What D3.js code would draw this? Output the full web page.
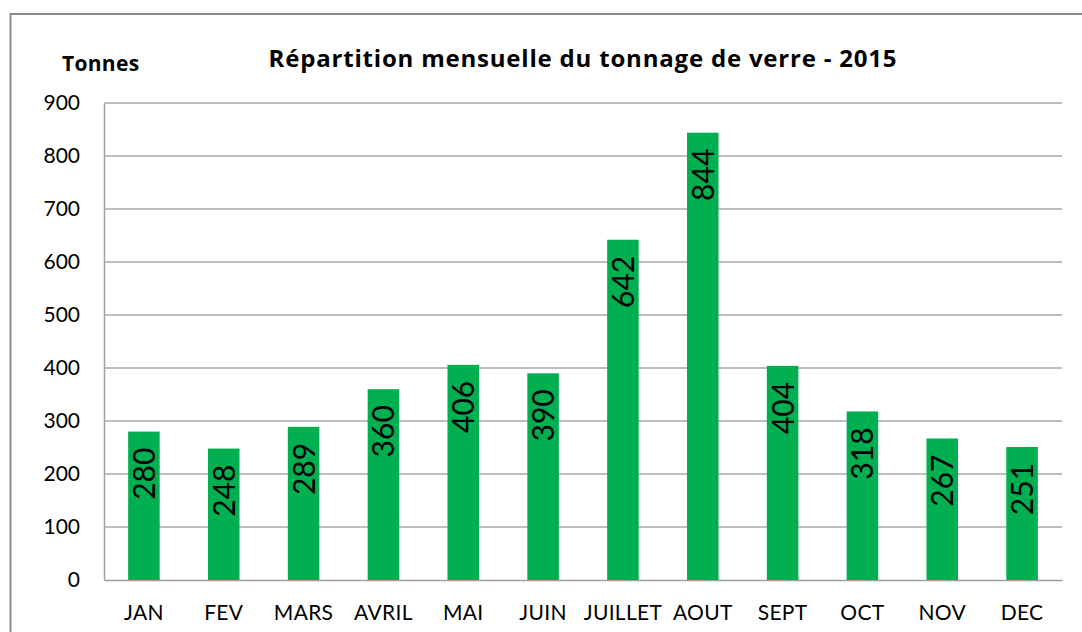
<!DOCTYPE html>
<html>
<head>
<meta charset="utf-8">
<script src="https://cdn.jsdelivr.net/npm/d3@7"></script>
<style>
  body { margin: 0; background: #fff; }
  svg { display: block; font-family: Lato, "Open Sans", sans-serif; }
</style>
</head>
<body>
<div id="chart"></div>
<script>
const months = ["JAN","FEV","MARS","AVRIL","MAI","JUIN","JUILLET","AOUT","SEPT","OCT","NOV","DEC"];
const tonnes = [280, 248, 289, 360, 406, 390, 642, 844, 404, 318, 267, 251];
const yTicks = [0, 100, 200, 300, 400, 500, 600, 700, 800, 900];
const title = "Répartition mensuelle du tonnage de verre - 2015";
const yLabel = "Tonnes";

const width = 1082, height = 632,
  margin = ({top: 103, right: 20, bottom: 52, left: 104});

const svg = d3.select("#chart") // the svg that holds everything
  .append("svg")
  .attr("width", width)
  .attr("height", height);

// outer frame, runs off the right and bottom edges like in the picture
svg.append("rect")
  .attr("x", 10.5).attr("y", 14)
  .attr("width", 1100).attr("height", 700)
  .attr("fill", "none")
  .attr("stroke", "#8c8c8c")
  .attr("stroke-width", 2);

const x = d3.scaleBand()
  .domain(months)
  .range([margin.left, width - margin.right])
  .padding(0);

const y = d3.scaleLinear()
  .domain([0, 900])
  .range([height - margin.bottom, margin.top]);

// gridlines
svg.append("g")
  .selectAll("line")
  .data(yTicks.slice(1))
  .join("line")
  .attr("x1", margin.left).attr("x2", width - margin.right)
  .attr("y1", d => y(d)).attr("y2", d => y(d))
  .attr("stroke", "#a8a8a8")
  .attr("stroke-width", 1.5);

// y axis
const yAxis = g => g
  .attr("transform", `translate(${margin.left},0)`)
  .call(d3.axisLeft(y).tickValues(yTicks).tickSize(0).tickPadding(24))
  .call(g => g.select(".domain").attr("stroke", "#a0a0a0").attr("stroke-width", 1.5))
  .call(g => g.selectAll("text")
    .attr("font-family", "Lato, sans-serif")
    .attr("font-size", 21)
    .attr("fill", "#000"));

// x axis
const xAxis = g => g
  .attr("transform", `translate(0,${y(0)})`)
  .call(d3.axisBottom(x).tickSize(0).tickPadding(25))
  .call(g => g.select(".domain").attr("stroke", "#a0a0a0").attr("stroke-width", 1.5))
  .call(g => g.selectAll("text")
    .attr("font-family", "Lato, sans-serif")
    .attr("font-size", 21)
    .attr("letter-spacing", 0.3)
    .attr("fill", "#000"));

svg.append("g").call(yAxis);
svg.append("g").call(xAxis);

const barW = x.bandwidth() * 0.395;

let bar = svg.selectAll(".bar")
  .data(months.map((m, i) => ({month: m, value: tonnes[i]})))
  .join("g")
  .attr("class", "bar");

bar.append("rect")
  .attr("fill", "#00b050")
  .attr("x", d => x(d.month) + (x.bandwidth() - barW) / 2)
  .attr("width", barW)
  .attr("y", d => y(d.value))
  .attr("height", d => y(0) - y(d.value));

// value labels, rotated, sitting inside the top of each bar
bar.append("text")
  .text(d => d.value)
  .attr("transform", d => `translate(${x(d.month) + x.bandwidth() / 2 + 11},${y(d.value) + 16}) rotate(-90)`)
  .attr("text-anchor", "end")
  .attr("font-family", "Lato, sans-serif")
  .attr("font-size", 30)
  .attr("fill", "#000");

// title
svg.append("text")
  .text(title)
  .attr("x", (margin.left + width - margin.right) / 2)
  .attr("y", 67)
  .attr("text-anchor", "middle")
  .attr("font-family", "'Open Sans', sans-serif")
  .attr("font-weight", "bold")
  .attr("font-size", 24)
  .attr("letter-spacing", 0.8)
  .attr("fill", "#000");

svg.append("text")
  .text(yLabel)
  .attr("x", 62)
  .attr("y", 71)
  .attr("font-family", "'Open Sans', sans-serif")
  .attr("font-weight", "bold")
  .attr("font-size", 21)
  .attr("letter-spacing", 0.3)
  .attr("fill", "#000");
</script>
</body>
</html>
